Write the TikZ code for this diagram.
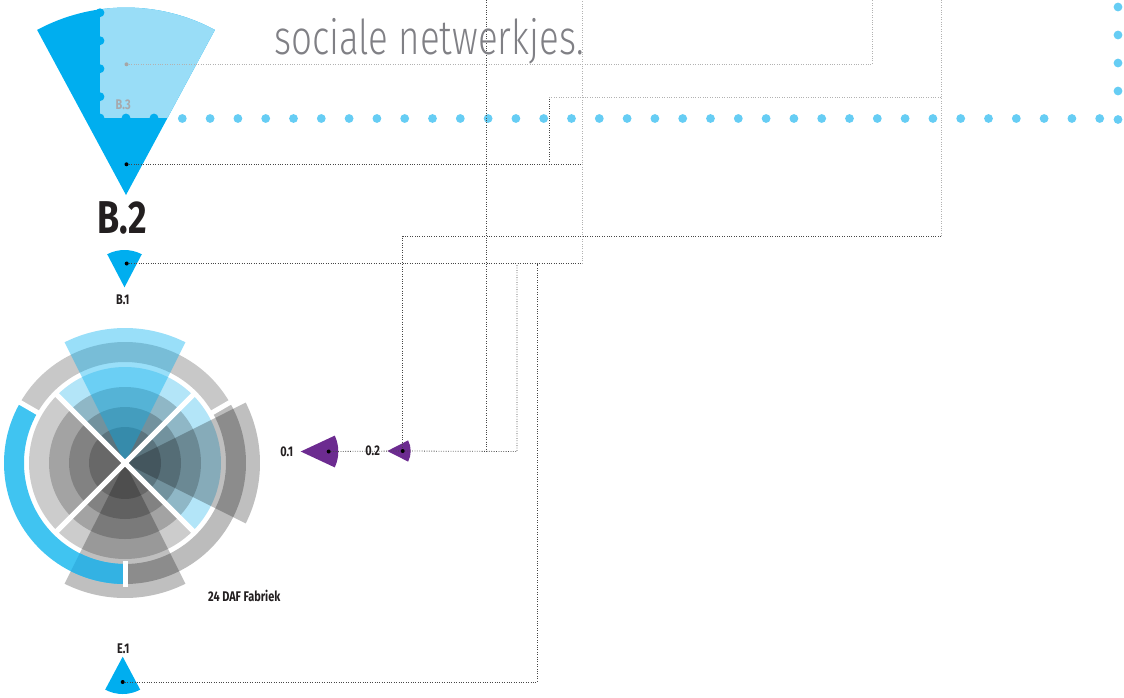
\documentclass[tikz,border=0pt]{standalone}
\usepackage{fontspec}
\newfontfamily\headfont[FakeStretch=0.765]{Fira Sans Light}
\newfontfamily\tagfont[FakeStretch=0.78]{Fira Sans}
\definecolor{coneblue}{HTML}{00AEEF}
\definecolor{conelight}{HTML}{99DDF7}
\definecolor{dotblue}{HTML}{66CDF4}
\definecolor{tintblue}{HTML}{B3E5F8}
\definecolor{ringblue}{HTML}{40C4F1}
\definecolor{ringshade}{HTML}{33B2E3}
\definecolor{ringgrey}{HTML}{C8C8C8}
\definecolor{ringgreyb}{HTML}{BCBCBC}
\definecolor{wedgecyan}{RGB}{0,174,239}
\definecolor{opurple}{HTML}{6C2B90}
\definecolor{labelgray}{HTML}{231F20}
\definecolor{headgray}{HTML}{808085}
\definecolor{tagb3}{HTML}{A7A9AC}
% filled fan: style, apex, start, end, radius
\newcommand{\fan}[5]{\fill[#1] (#2) -- ++(#3:#5) arc[start angle=#3,end angle=#4,radius=#5] -- cycle;}
% ring band: style, start, end, inner, outer
\newcommand{\arcband}[5]{\fill[#1] (#2:#5) arc[start angle=#2,end angle=#3,radius=#5] -- (#3:#4) arc[start angle=#3,end angle=#2,radius=#4] -- cycle;}
\tikzset{
  tag/.style={font=\tagfont\bfseries\fontsize{14}{14}\selectfont,text=labelgray,inner sep=0pt},
  pin/.style={circle,fill=black,inner sep=0pt,minimum size=4pt},
  darkline/.style={draw=black!72,line width=0.8pt,dash pattern=on 0.8pt off 1.6pt},
  lightline/.style={draw=black!30,line width=0.8pt,dash pattern=on 0.8pt off 1.6pt},
  greylayer/.style={fill=black,fill opacity=0.2},
  wedgegrey/.style={fill=black,fill opacity=0.25},
  wedgeblue/.style={fill=wedgecyan,fill opacity=0.4}
}
\begin{document}
\begin{tikzpicture}[x=1pt,y=-1pt]
  \useasboundingbox (0,0) rectangle (1124,697);
  % big cone B.2 with light upper part
  \fan{coneblue}{126,195}{-118.3}{-61.7}{187.5}
  \begin{scope}
    \clip (126,195) -- ++(-118.3:187.5) arc[start angle=-118.3,end angle=-61.7,radius=187.5] -- cycle;
    \fill[conelight] (100,0) rectangle (220,118);
  \end{scope}
  \foreach \y in {12.7,40.7,68.7,96.7,118}
    \fill[coneblue] (100,\y) circle[radius=4.4];
  \foreach \x in {126,154}
    \fill[coneblue] (\x,118) circle[radius=4.4];
  % row of dots
  \foreach \k in {0,...,33}
    \fill[dotblue] (182.3+27.8*\k,118.5) circle[radius=4.4];
  \foreach \y in {7,35,63,91,119.5}
    \fill[dotblue] (1118,\y) circle[radius=4.4];
  % small cones
  \fan{coneblue}{124.5,287.3}{-117.6}{-62.4}{37.3}
  \fan{coneblue}{122.7,656.7}{62}{118}{37.3}
  \fan{opurple}{300.7,451.5}{-25}{25}{37.6}
  \fan{opurple}{387.3,451}{-27}{27}{23.4}
  % round chart
  \begin{scope}[shift={(125,463)}]
    \fill[tintblue] (0,0) -- (-135:96) arc[start angle=-135,end angle=45,radius=96] -- cycle;
    \fill[greylayer] (0,0) -- (45:96) arc[start angle=45,end angle=225,radius=96] -- cycle;
    \foreach \r in {76,56,36}
      \fill[greylayer] (0,0) circle[radius=\r];
    \arcband{ringgrey}{-150}{-30}{101}{121}
    \arcband{ringgreyb}{-30}{90}{101}{121}
    \fan{wedgeblue}{0,0}{-116.57}{-63.43}{135}
    \fan{wedgegrey}{0,0}{-26.57}{26.57}{135}
    \fan{wedgegrey}{0,0}{63.43}{116.57}{135}
    \arcband{ringblue}{90}{210}{101}{121}
    \arcband{ringshade}{90}{116.57}{101}{121}
    \foreach \a in {-150,-30,90}
      \draw[white,line width=5pt] (\a:98) -- (\a:124);
    \foreach \a in {45,135,225,315}
      \draw[white,line width=5pt] (0,0) -- (\a:98);
  \end{scope}
  % pins
  \node[pin,fill=black!35] (pB3) at (126.5,64.3) {};
  \node[pin] (pB2) at (126.5,164.3) {};
  \node[pin] (pB1) at (126.7,263.5) {};
  \node[pin] (pO1) at (328.7,451.5) {};
  \node[pin] (pO2) at (402.7,451) {};
  \node[pin] (pE1) at (122.7,682) {};
  % connector corners
  \coordinate (tB3) at (872,0);
  \coordinate (kB2) at (582,164.3);
  \coordinate (kA) at (549,164.3);
  \coordinate (kA1) at (549,97);
  \coordinate (kA2) at (941,97);
  \coordinate (tC) at (941,0);
  \coordinate (kC) at (941,236);
  \coordinate (kC2) at (402.7,236);
  \coordinate (kB1) at (582,263.5);
  \coordinate (tB1) at (582,0);
  \coordinate (tD) at (486,0);
  \coordinate (kD) at (486,451.5);
  \coordinate (kO) at (517,451.5);
  \coordinate (kO2) at (517,263.5);
  \coordinate (kE) at (537,682);
  \coordinate (kE2) at (537,263.5);
  % connectors
  \draw[lightline] (pB3) -| (tB3);
  \draw[darkline] (pB2) -- (kB2);
  \draw[darkline] (kA) -- (kA1);
  \draw[lightline] (kA1) -- (kA2);
  \draw[lightline] (tC) -- (kC);
  \draw[darkline] (kC) -- (kC2) -- (pO2);
  \draw[darkline] (pB1) -- (kB1);
  \draw[lightline] (kB1) -- (tB1);
  \draw[darkline] (tD) -- (kD);
  \draw[darkline] (pO1) -- (pO2) -- (kO) -- (kO2);
  \draw[darkline] (pE1) -- (kE) -- (kE2);
  % texts
  \node[anchor=base west,inner sep=0pt,text=headgray,font=\headfont\fontsize{48}{48}\selectfont] (ttl) at (274,54.5) {sociale netwerkjes.};
  \node[tag,font=\tagfont\bfseries\fontsize{46}{46}\selectfont] (lB2) at (122.5,217.5) {B.2};
  \node[tag,text=tagb3] (lB3) at (123.3,104.3) {B.3};
  \node[tag] (lB1) at (122.7,299.5) {B.1};
  \node[tag] (lE1) at (123.3,648.3) {E.1};
  \node[tag] (lO1) at (286.7,451.5) {0.1};
  \node[tag] (lO2) at (372.7,451) {0.2};
  \node[tag,anchor=west] (lDAF) at (208,596.2) {24 DAF Fabriek};
\end{tikzpicture}
\end{document}
